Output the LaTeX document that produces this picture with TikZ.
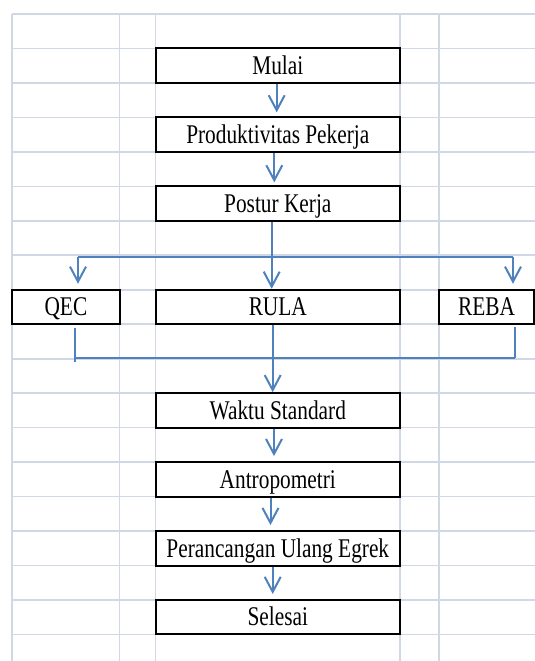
\documentclass[tikz,border=0pt]{standalone}
\usepackage{fontspec}
\setmainfont{Liberation Serif}[FakeStretch=0.79]
\usetikzlibrary{arrows.meta}
\definecolor{gridc}{HTML}{D0D7E5}
\definecolor{arrc}{HTML}{4F81BD}
\begin{document}
\begin{tikzpicture}[x=1pt,y=-1pt,
  gridline/.style={draw=gridc,line width=1.7pt},
  box/.style={draw=black,line width=2pt,fill=white,inner sep=0pt,minimum height=34.47pt,
    text height=24pt,text depth=6.5pt,font=\fontsize{27}{31}\selectfont},
  conn/.style={draw=arrc,line width=2pt},
  arr/.style={conn,-{Straight Barb[length=15pt,width=16pt,line width=2pt]}}]
\useasboundingbox (0,0) rectangle (535,661);
% grid
\foreach \k in {0,...,18} \draw[gridline] (12.3,{14+34.47*\k}) -- (535,{14+34.47*\k});
\foreach \x in {12.3,119.5,155.6,400,439} \draw[gridline] (\x,14) -- (\x,661);
% boxes
\node[box,minimum width=244.4pt] (mulai) at (277.8,65.7) {Mulai};
\node[box,minimum width=244.4pt] (prod) at (277.8,134.6) {Produktivitas Pekerja};
\node[box,minimum width=244.4pt] (postur) at (277.8,203.6) {Postur Kerja};
\node[box,minimum width=107.2pt] (qec) at (65.9,307) {QEC};
\node[box,minimum width=244.4pt] (rula) at (277.8,307) {RULA};
\node[box,minimum width=95pt] (reba) at (486.5,307) {REBA};
\node[box,minimum width=244.4pt] (waktu) at (277.8,410.4) {Waktu Standard};
\node[box,minimum width=244.4pt] (antro) at (277.8,479.3) {Antropometri};
\node[box,minimum width=244.4pt] (peranc) at (277.8,548.3) {Perancangan Ulang Egrek};
\node[box,minimum width=244.4pt] (selesai) at (277.8,617.2) {Selesai};
% connectors
\coordinate (a1) at (276.7,0);
\coordinate (a2) at (274.3,0);
\coordinate (a3) at (271.7,0);
\coordinate (a4) at (272.7,0);
\coordinate (a5) at (274,0);
\coordinate (a6) at (270.5,0);
\coordinate (a7) at (272.7,0);
\draw[arr,shorten >=4pt] (mulai.south -| a1) -- (prod.north -| a1);
\draw[arr,shorten >=3pt] (prod.south -| a2) -- (postur.north -| a2);
\draw[arr] (postur.south -| a3) -- (rula.north -| a3);
\coordinate (bl) at (78,256.5);
\coordinate (br) at (513,256.5);
\draw[conn] (bl) -- (br);
\draw[arr,shorten >=5pt] (bl) -- (qec.north -| bl);
\draw[arr,shorten >=5pt] (br) -- (reba.north -| br);
\coordinate (ml) at (75,358.3);
\coordinate (mr) at (515,358.3);
\draw[conn] ([yshift=-3pt]qec.south -| ml) -- ([yshift=-4pt]ml);
\draw[conn] ([yshift=-2pt]reba.south -| mr) -- (mr);
\draw[conn] (ml) -- (mr);
\draw[arr] (rula.south -| a4) -- (waktu.north -| a4);
\draw[arr,shorten >=5pt] (waktu.south -| a5) -- (antro.north -| a5);
\draw[arr,shorten >=5pt] (antro.south -| a6) -- (peranc.north -| a6);
\draw[arr,shorten >=5pt] (peranc.south -| a7) -- (selesai.north -| a7);
\end{tikzpicture}
\end{document}
